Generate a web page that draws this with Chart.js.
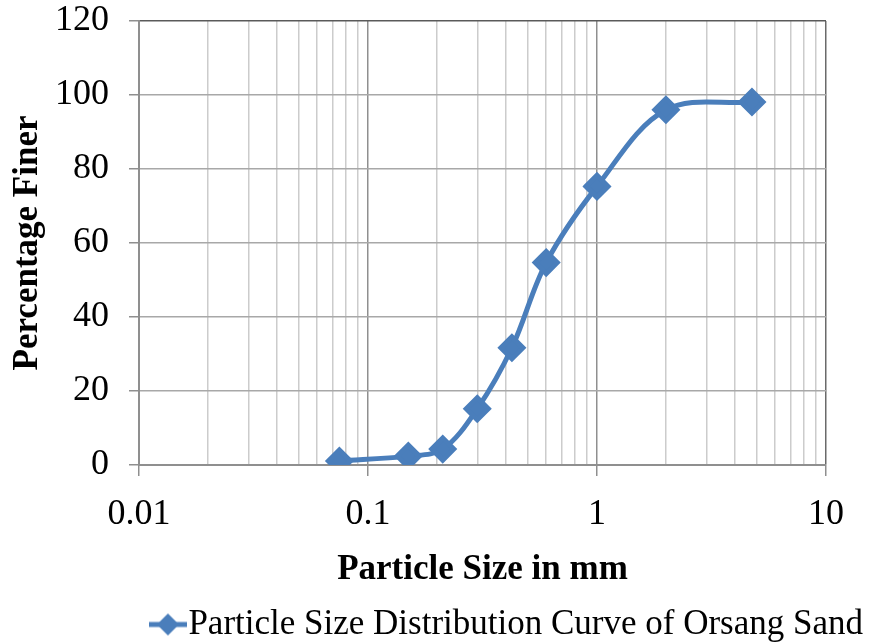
<!DOCTYPE html>
<html>
<head>
<meta charset="utf-8">
<script src="https://cdn.jsdelivr.net/npm/chart.js@4"></script>
<style>
    html, body { margin: 0; padding: 0; background: #fff; }
    #wrap { width: 873px; height: 643px; }
</style>
</head>
<body>
<div id="wrap"><canvas id="psdChart"></canvas></div>
<script>
/* ======================
   DATA
====================== */
const sizes = [0.075, 0.15, 0.212, 0.3, 0.425, 0.6, 1.0, 2.0, 4.75];
const finer = [1.1, 2.4, 4.3, 15.2, 31.7, 54.7, 75.3, 96.0, 98.1];
const xTickLabels = ["0.01", "0.1", "1", "10"];
const yTicks = [0, 20, 40, 60, 80, 100, 120];
const seriesName = "Particle Size Distribution Curve of Orsang Sand";

const blue = "#4a7ebb";
const serif = "'Liberation Serif', 'Times New Roman', serif";

// legend marker: short line with a diamond on it
const marker = document.createElement("canvas");
marker.width = 38;
marker.height = 24;
(function () {
    const c = marker.getContext("2d");
    c.strokeStyle = blue;
    c.lineWidth = 5;
    c.beginPath();
    c.moveTo(0, 12);
    c.lineTo(38, 12);
    c.stroke();
    c.fillStyle = blue;
    c.beginPath();
    c.moveTo(19, 1);
    c.lineTo(30, 12);
    c.lineTo(19, 23);
    c.lineTo(8, 12);
    c.closePath();
    c.fill();
})();

function isDecade(v) {
    const l = Math.log10(v);
    return Math.abs(l - Math.round(l)) < 1e-9;
}

/* ======================
   CHART
====================== */
const chartCanvas = document.getElementById("psdChart");

new Chart(chartCanvas, {
    type: "line",
    data: {
        datasets: [{
            label: seriesName,
            data: sizes.map((s, i) => ({ x: s, y: finer[i] })),
            borderColor: blue,
            backgroundColor: blue,
            borderWidth: 5,
            tension: 0.35,
            fill: false,
            pointStyle: "rectRot",
            pointRadius: 11,
            pointHoverRadius: 11,
            pointBackgroundColor: blue,
            pointBorderColor: blue
        }]
    },
    options: {
        responsive: true,
        maintainAspectRatio: false,
        animation: false,
        layout: {
            padding: { top: 0, right: 8, left: 0, bottom: -9 }
        },
        plugins: {
            tooltip: { enabled: false },
            legend: {
                position: "bottom",
                align: "end",
                labels: {
                    color: "#000",
                    font: { family: serif, size: 35 },
                    usePointStyle: true,
                    pointStyleWidth: 6,
                    padding: 2,
                    generateLabels: chart => [{
                        text: seriesName,
                        pointStyle: marker,
                        fillStyle: blue,
                        strokeStyle: blue,
                        lineWidth: 0,
                        datasetIndex: 0
                    }]
                }
            }
        },
        scales: {
            x: {
                type: "logarithmic",
                min: 0.01,
                max: 10,
                afterBuildTicks: scale => {
                    const t = [];
                    for (let d = 0.01; d < 10; d *= 10) {
                        for (let m = 1; m < 10; m++) t.push({ value: +(m * d).toPrecision(3) });
                    }
                    t.push({ value: 10 });
                    scale.ticks = t;
                },
                afterFit: scale => {
                    scale.height = 140;
                    scale.paddingRight = 47;
                },
                ticks: {
                    autoSkip: false,
                    maxRotation: 0,
                    color: "#000",
                    font: { family: serif, size: 36 },
                    padding: 17,
                    callback: v => {
                        if (!isDecade(v)) return "";
                        const i = Math.round(Math.log10(v)) + 2;
                        return xTickLabels[i];
                    }
                },
                grid: {
                    color: ctx => {
                        const v = ctx.tick ? ctx.tick.value : 0;
                        if (v === 10) return "#6a6a6a";
                        return isDecade(v) ? "#8f8f8f" : "#cccccc";
                    },
                    lineWidth: 1.5,
                    tickLength: 11,
                    tickColor: ctx => (ctx.tick && isDecade(ctx.tick.value)) ? "#8f8f8f" : "rgba(0,0,0,0)"
                },
                border: { color: "#8f8f8f", width: 2 },
                title: {
                    display: true,
                    text: "Particle Size in mm",
                    color: "#000",
                    font: { family: serif, size: 35, weight: "bold" },
                    padding: { top: 0, bottom: 14 }
                }
            },
            y: {
                min: 0,
                max: 120,
                afterBuildTicks: scale => {
                    scale.ticks = yTicks.map(v => ({ value: v }));
                },
                afterFit: scale => {
                    scale.width = 139;
                    scale.paddingTop = 21;
                },
                ticks: {
                    color: "#000",
                    font: { family: serif, size: 36 },
                    padding: 20
                },
                grid: {
                    color: ctx => (ctx.tick && ctx.tick.value === 120) ? "#5a5a5a" : "#a8a8a8",
                    lineWidth: 1.5,
                    tickLength: 10,
                    tickColor: "#8f8f8f"
                },
                border: { color: "#8f8f8f", width: 2 },
                title: {
                    display: true,
                    text: "Percentage Finer",
                    color: "#000",
                    font: { family: serif, size: 35, weight: "bold" },
                    padding: { top: 7, bottom: 0 }
                }
            }
        }
    }
});
</script>
</body>
</html>
